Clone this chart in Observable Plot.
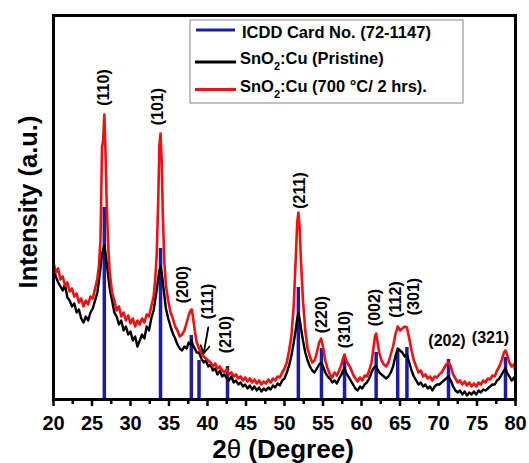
<!DOCTYPE html>
<html><head><meta charset="utf-8">
<script src="https://cdn.jsdelivr.net/npm/d3@7"></script>
<script src="https://cdn.jsdelivr.net/npm/@observablehq/plot@0.6"></script>
<style>body{margin:0;background:#fff}</style>
</head><body><div id="chart"></div>
<script>
// 2theta grid (degrees)
const angles = [
20.0,20.3,20.6,20.9,21.2,21.5,21.8,22.1,22.4,22.7,
23.0,23.3,23.6,23.9,24.2,24.5,24.8,25.1,25.4,25.7,
25.9,26.1,26.3,26.45,26.6,26.75,26.9,27.1,27.3,27.6,
27.9,28.2,28.5,28.8,29.1,29.4,29.7,30.0,30.3,30.6,
30.9,31.2,31.5,31.8,32.1,32.4,32.7,33.0,33.2,33.4,
33.6,33.75,33.9,34.05,34.2,34.4,34.6,34.9,35.2,35.5,
35.8,36.1,36.4,36.7,37.0,37.3,37.55,37.8,37.95,38.1,
38.35,38.6,38.9,39.2,39.5,39.8,40.1,40.4,40.7,41.0,
41.3,41.6,41.9,42.2,42.5,42.8,43.1,43.4,43.7,44.0,
44.3,44.6,44.9,45.2,45.5,45.8,46.1,46.4,46.7,47.0,
47.3,47.6,47.9,48.2,48.5,48.8,49.1,49.4,49.7,50.0,
50.3,50.6,50.9,51.2,51.45,51.65,51.8,51.95,52.15,52.4,
52.7,53.0,53.3,53.6,53.9,54.2,54.5,54.75,55.0,55.3,
55.6,55.9,56.2,56.5,56.8,57.1,57.4,57.6,57.8,58.0,
58.3,58.6,58.9,59.2,59.5,59.8,60.1,60.4,60.7,61.0,
61.3,61.55,61.75,61.9,62.05,62.3,62.6,62.9,63.2,63.5,
63.8,64.1,64.4,64.7,65.0,65.3,65.6,65.9,66.2,66.5,
66.8,67.1,67.4,67.7,68.0,68.3,68.6,68.9,69.2,69.5,
69.8,70.1,70.4,70.7,71.0,71.3,71.6,71.9,72.2,72.5,
72.8,73.1,73.4,73.7,74.0,74.3,74.6,74.9,75.2,75.5,
75.8,76.1,76.4,76.7,77.0,77.3,77.6,77.9,78.2,78.5,
78.7,78.9,79.2,79.5,79.8,80.0];

// SnO2:Cu (700 °C / 2 hrs) intensity (a.u.)
const annealed = [
137,127,131,120,123,114,117,108,111,103,
106,97,101,93,99,95,103,101,111,121,
134,159,252,259,285,249,199,154,127,107,
99,89,93,83,87,79,84,76,81,73,
79,75,81,77,85,83,93,103,119,144,
199,254,266,239,184,137,114,99,87,81,
73,69,63,65,69,77,84,89,90,83,
69,57,51,47,43,41,39,37,33,36,
31,33,29,27,30,25,27,23,25,21,
23,19,22,18,21,17,20,16,19,15,
18,16,20,17,21,19,23,22,27,31,
37,49,64,94,139,177,187,174,137,99,
69,51,43,37,39,47,57,61,53,39,
31,25,22,27,24,29,35,41,45,39,
35,31,25,21,18,22,19,24,23,29,
37,51,63,66,59,47,39,35,33,37,
45,53,65,73,69,71,73,72,61,49,
39,33,27,29,23,25,21,23,19,23,
22,25,27,31,35,37,33,25,21,17,
19,15,18,14,17,13,16,13,17,15,
19,17,21,20,24,23,29,33,39,47,
49,45,37,33,35,27];

// SnO2:Cu (Pristine) intensity (a.u.)
const pristine = [
131,123,117,113,109,115,102,99,93,96,
87,90,81,77,83,79,87,91,99,107,
119,131,147,149,154,147,137,124,111,99,
87,83,75,79,69,73,65,68,59,63,
53,59,65,61,73,69,81,89,99,109,
121,129,133,127,117,104,91,81,73,66,
61,55,51,49,53,51,57,55,59,54,
51,47,47,41,37,39,33,35,29,31,
25,29,23,25,21,19,23,17,19,15,
17,13,15,11,14,10,13,9,12,8,
11,9,12,10,14,12,16,14,19,21,
27,34,44,57,69,81,86,81,71,59,
47,39,33,29,27,31,35,37,33,27,
23,21,17,19,16,21,25,29,31,27,
23,19,15,11,9,13,11,15,17,21,
27,31,33,33,31,27,25,23,21,23,
27,33,43,51,49,47,43,45,37,29,
23,19,15,17,13,15,11,13,9,13,
15,15,17,19,21,23,19,13,9,7,
9,5,8,4,7,5,8,5,9,7,
10,9,11,13,15,15,19,21,25,29,
31,27,23,19,22,17];

// ICDD card 72-1147 reference lines
const icddAngle = [26.6,33.9,37.9,38.9,42.6,51.8,54.8,57.8,61.9,64.7,65.9,71.3,78.7];
const icddI     = [192,151,64,39,33,112,51,41,47,49,52,40,42];

// hkl annotations
const hkl       = ["(110)","(101)","(200)","(111)","(210)","(211)","(220)","(310)","(002)","(112)","(301)","(202)","(321)"];
const hklAngle  = [26.5,33.5,36.75,40.0,42.35,51.95,54.8,57.8,61.7,64.4,66.75,71.1,76.75];
const hklI      = [312,293,115,98,65,209,85,70,92,100,103,59,62];
const hklVert   = [true,true,true,true,true,true,true,true,true,true,true,false,false];

// arrow pointing to (111)
const arrowFrom = [40.1, 72];
const arrowTo   = [39.5, 46];

const xTicks = [20,25,30,35,40,45,50,55,60,65,70,75,80];
const xMinor = [22.5,27.5,32.5,37.5,42.5,47.5,52.5,57.5,62.5,67.5,72.5,77.5];

const legendLabels = [["ICDD Card No. (72-1147)"], ["SnO","2",":Cu (Pristine)"], ["SnO","2",":Cu (700 °C/ 2 hrs)."]];
const BLUE = "#1c1ca6", RED = "#ee1111", BLACK = "#000";
const legendColors = [BLUE, BLACK, RED];

const FONT = "'Liberation Sans', Arial, Helvetica, sans-serif";

const pData = angles.map((a, i) => ({a, I: pristine[i]}));
const rData = angles.map((a, i) => ({a, I: annealed[i]}));
const cData = icddAngle.map((a, i) => ({a, I: icddI[i]}));
const lData = hkl.map((t, i) => ({t, a: hklAngle[i], I: hklI[i], v: hklVert[i]}));
const minorData = xMinor.map(a => ({a}));

const plot = Plot.plot({
  width: 529, height: 463,
  marginLeft: 53, marginRight: 14, marginTop: 15, marginBottom: 64,
  style: {fontFamily: FONT, background: "#fff", overflow: "visible"},
  x: {domain: [20, 80], label: null},
  y: {domain: [0, 384], axis: null},
  marks: [
    Plot.ruleX(cData, {x: "a", y1: 0, y2: "I", stroke: BLUE, strokeWidth: 3.5}),
    Plot.line(pData, {x: "a", y: "I", stroke: BLACK, strokeWidth: 2.4}),
    Plot.line(rData, {x: "a", y: "I", stroke: RED, strokeWidth: 2.6}),
    Plot.text(lData.filter(d => d.v), {x: "a", y: "I", text: "t", rotate: -90, fontSize: 16, fontWeight: "bold", fill: "#000", lineAnchor: "middle", textAnchor: "middle"}),
    Plot.text(lData.filter(d => !d.v), {x: "a", y: "I", text: "t", fontSize: 16, fontWeight: "bold", fill: "#000", lineAnchor: "middle", textAnchor: "middle"}),
    Plot.arrow([{x1: arrowFrom[0], y1: arrowFrom[1], x2: arrowTo[0], y2: arrowTo[1]}], {x1: "x1", y1: "y1", x2: "x2", y2: "y2", stroke: "#000", strokeWidth: 1.8, headLength: 9}),
    Plot.frame({stroke: "#000", strokeWidth: 3}),
    Plot.tickX(minorData, {x: "a", stroke: "#000", strokeWidth: 2.5, insetTop: 384, insetBottom: -5}),
    Plot.axisX({ticks: xTicks, tickSize: 7, tickPadding: 9, strokeWidth: 2.5, fontSize: 20, fontWeight: "bold", fill: "#000", label: null, tickFormat: d => d})
  ]
});

const svg = d3.select(plot);
const lg = svg.append("g").attr("font-family", FONT).attr("font-weight", "bold").attr("font-size", 16.5).attr("text-anchor", "start");
lg.append("rect").attr("x", 190).attr("y", 20).attr("width", 273).attr("height", 83)
  .attr("fill", "#fff").attr("stroke", "#9a9a9a").attr("stroke-width", 1.2);
const rowLineY = [30, 62, 89.5], rowTextY = [38, 64, 92], rowTextX = [242, 240, 240], rowLineX = [[196, 235], [195, 236], [195, 236]];
legendLabels.forEach((parts, i) => {
  lg.append("line").attr("x1", rowLineX[i][0]).attr("x2", rowLineX[i][1]).attr("y1", rowLineY[i]).attr("y2", rowLineY[i])
    .attr("stroke", legendColors[i]).attr("stroke-width", 3);
  const t = lg.append("text").attr("x", rowTextX[i]).attr("y", rowTextY[i]).attr("fill", "#000").attr("text-anchor", "start");
  if (parts.length === 1) t.text(parts[0]);
  else {
    t.append("tspan").text(parts[0]);
    t.append("tspan").attr("dy", 6).attr("font-size", 11).text(parts[1]);
    t.append("tspan").attr("dy", -6).text(parts[2]);
  }
});

svg.append("text").attr("transform", "translate(37,202) rotate(-90)").attr("text-anchor", "middle")
  .attr("font-family", FONT).attr("font-weight", "bold").attr("font-size", 25.5).attr("fill", "#000")
  .text("Intensity (a.u.)");

const xl = svg.append("text").attr("x", 283).attr("y", 458).attr("text-anchor", "middle")
  .attr("font-family", FONT).attr("font-weight", "bold").attr("font-size", 26).attr("fill", "#000");
xl.append("tspan").text("2");
xl.append("tspan").attr("font-weight", "normal").text("θ");
xl.append("tspan").text(" (Degree)");

document.getElementById("chart").appendChild(plot);
</script>
</body></html>
